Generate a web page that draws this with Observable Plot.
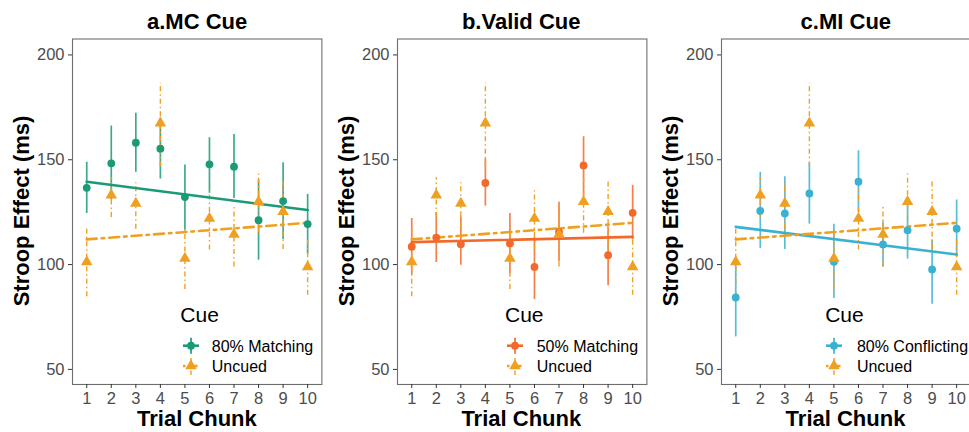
<!DOCTYPE html>
<html>
<head>
<meta charset="utf-8">
<script src="https://cdn.jsdelivr.net/npm/d3@7"></script>
<script src="https://cdn.jsdelivr.net/npm/@observablehq/plot@0.6"></script>
<style>
  html, body { margin: 0; padding: 0; background: #fff; }
  body { width: 969px; height: 432px; overflow: hidden; font-family: "Liberation Sans", Arial, sans-serif; }
  #root { position: relative; width: 969px; height: 432px; overflow: hidden; }
  .panel { position: absolute; top: 0; }
  .ptitle, .xtitle, .ytitle { position: absolute; font-weight: bold; color: #000; white-space: nowrap; font-size: 22px; line-height: 1; }
  .ytitle { transform: translate(-50%, -50%) rotate(-90deg); }
  .legend { position: absolute; color: #000; }
  .legend .head { font-size: 21px; line-height: 1; }
  .legend .row { position: absolute; font-size: 16px; line-height: 1; white-space: nowrap; }
</style>
</head>
<body>
<div id="root"></div>
<script>
// ---- data ----
const chunks = [1, 2, 3, 4, 5, 6, 7, 8, 9, 10];
const yTicks = [50, 100, 150, 200];

const uncuedMean = [101.3, 133.1, 129.2, 167.4, 102.9, 122.0, 114.4, 130.0, 125.2, 98.9];
const uncuedLow  = [84.6, 122.5, 116.8, 146.7, 88.1, 106.9, 98.9, 114.9, 107.2, 85.4];
const uncuedHigh = [117.5, 141.4, 139.0, 186.5, 116.4, 135.2, 127.6, 143.2, 139.8, 112.5];

const mcMean = [136.6, 148.3, 158.1, 155.3, 132.2, 147.8, 146.7, 121.2, 130.3, 119.3];
const mcLow  = [124.4, 130.8, 144.0, 140.8, 116.4, 134.0, 131.5, 102.1, 112.0, 105.0];
const mcHigh = [148.8, 166.1, 172.2, 169.8, 147.5, 160.5, 162.1, 140.3, 148.6, 133.5];

const validMean = [108.5, 112.9, 109.7, 138.9, 110.1, 98.9, 115.6, 147.3, 104.5, 124.7];
const validLow  = [95.0, 101.0, 99.7, 127.9, 95.8, 83.3, 101.3, 132.3, 89.9, 111.7];
const validHigh = [122.0, 124.8, 122.8, 150.5, 124.4, 112.9, 129.7, 161.0, 118.0, 137.8];

const miMean = [84.3, 125.6, 124.4, 133.9, 101.3, 139.5, 109.6, 116.4, 97.7, 117.1];
const miLow  = [65.5, 107.7, 107.2, 119.3, 83.8, 124.7, 98.9, 102.6, 81.1, 103.7];
const miHigh = [103.0, 144.0, 141.9, 148.3, 119.2, 154.3, 120.4, 130.8, 111.7, 130.8];

// fitted regression lines (endpoints at chunk 1 and chunk 10)
const fitChunks = [1, 10];
const uncuedFit = [112.0, 119.9];
const mcFit = [139.5, 126.0];
const validFit = [110.7, 113.2];
const miFit = [118.0, 104.8];

const panelTitles = ["a.MC Cue", "b.Valid Cue", "c.MI Cue"];
const cueLabels = ["80% Matching", "50% Matching", "80% Conflicting"];
const uncuedLabel = "Uncued";
const legendTitle = "Cue";
const xTitle = "Trial Chunk";
const yTitle = "Stroop Effect (ms)";

const cueColors = ["#1b9a78", "#f26a2b", "#3bb1d1"];
const uncuedColor = "#f0a021";

// ---- layout ----
const frameLefts = [72.3, 396.7, 720.9];
const frameW = 249.4;
const mL = 72, mR = 10, mT = 38.5, mB = 48;
const H = 432;
const legendOffsets = [
  {head: 108, key: 118.5, text: 139.5},
  {head: 108.3, key: 118.3, text: 140},
  {head: 104.3, key: 112.6, text: 136}
];

const panels = [
  {mean: mcMean, low: mcLow, high: mcHigh, fit: mcFit},
  {mean: validMean, low: validLow, high: validHigh, fit: validFit},
  {mean: miMean, low: miLow, high: miHigh, fit: miFit}
];

const uncuedRows = chunks.map((c, i) => ({chunk: c, mean: uncuedMean[i], low: uncuedLow[i], high: uncuedHigh[i]}));
const uncuedFitRows = fitChunks.map((c, i) => ({chunk: c, v: uncuedFit[i]}));

const root = document.getElementById("root");

panels.forEach((p, k) => {
  const color = cueColors[k];
  const rows = chunks.map((c, i) => ({chunk: c, mean: p.mean[i], low: p.low[i], high: p.high[i]}));
  const fitRows = fitChunks.map((c, i) => ({chunk: c, v: p.fit[i]}));
  const left = frameLefts[k] - mL;
  const W = mL + frameW + mR;

  const chart = Plot.plot({
    width: W,
    height: H,
    marginLeft: mL, marginRight: mR, marginTop: mT, marginBottom: mB,
    style: {background: "transparent", maxWidth: "none", overflow: "visible", fontFamily: "'Liberation Sans', Arial, sans-serif"},
    x: {domain: [0.42, 10.58], label: null},
    y: {domain: [42.8, 207.6], label: null},
    marks: [
      Plot.frame({stroke: "#6e6e6e", strokeWidth: 1.1}),
      Plot.axisX({ticks: chunks, tickSize: 4, tickPadding: 4, fontSize: 16.5, label: null, stroke: "#333", fill: "#4d4d4d", tickFormat: d => String(d)}),
      Plot.axisY({ticks: yTicks, tickSize: 4, tickPadding: 4, fontSize: 16.5, label: null, stroke: "#333", fill: "#4d4d4d"}),
      // error bars
      Plot.ruleX(rows, {x: "chunk", y1: "low", y2: "high", stroke: color, strokeWidth: 1.7, strokeOpacity: 0.85}),
      Plot.ruleX(uncuedRows, {x: "chunk", y1: "low", y2: "high", stroke: uncuedColor, strokeWidth: 1.4, strokeDasharray: "5,3,1.5,3"}),
      // regression lines
      Plot.line(fitRows, {x: "chunk", y: "v", stroke: color, strokeWidth: 2.6}),
      Plot.line(uncuedFitRows, {x: "chunk", y: "v", stroke: uncuedColor, strokeWidth: 2.6, strokeDasharray: "10,5,2.5,5"}),
      // points
      Plot.dot(rows, {x: "chunk", y: "mean", r: 3.9, fill: color, stroke: "none"}),
      Plot.dot(uncuedRows, {x: "chunk", y: "mean", r: 4.3, symbol: "triangle", fill: uncuedColor, stroke: "none"})
    ]
  });
  chart.classList.add("panel");
  chart.style.left = left + "px";
  chart.style.position = "absolute";
  chart.style.top = "0px";
  root.appendChild(chart);

  const cx = frameLefts[k] + frameW / 2;

  const t = document.createElement("div");
  t.className = "ptitle";
  t.textContent = panelTitles[k];
  root.appendChild(t);
  t.style.left = (cx - t.offsetWidth / 2) + "px";
  t.style.top = "11px";

  const xt = document.createElement("div");
  xt.className = "xtitle";
  xt.textContent = xTitle;
  root.appendChild(xt);
  xt.style.left = (cx - xt.offsetWidth / 2) + "px";
  xt.style.top = "408px";

  const yt = document.createElement("div");
  yt.className = "ytitle";
  yt.textContent = yTitle;
  root.appendChild(yt);
  yt.style.left = (frameLefts[k] - 50) + "px";
  yt.style.top = "211px";

  // legend
  const lo = legendOffsets[k];
  const fl = frameLefts[k];
  const head = document.createElement("div");
  head.className = "legend head";
  head.style.fontSize = "21px";
  head.style.lineHeight = "1";
  head.textContent = legendTitle;
  head.style.left = (fl + lo.head) + "px";
  head.style.top = "304px";
  root.appendChild(head);

  const ns = "http://www.w3.org/2000/svg";
  const keySvg = document.createElementNS(ns, "svg");
  keySvg.setAttribute("width", 24);
  keySvg.setAttribute("height", 44);
  keySvg.style.position = "absolute";
  keySvg.style.left = (fl + lo.key - 12) + "px";
  keySvg.style.top = "334px";
  const kx = 12, y1 = 11.7, y2 = 32;
  const tri = (x, y, r) => {
    const s = Math.PI * r * r;
    const yy = -Math.sqrt(s / (Math.sqrt(3) * 3));
    return `M${x},${y + 2 * yy}L${x - Math.sqrt(3) * yy},${y - yy}L${x + Math.sqrt(3) * yy},${y - yy}Z`;
  };
  keySvg.innerHTML = `
    <line x1="${kx}" x2="${kx}" y1="${y1 - 8}" y2="${y1 + 8}" stroke="${color}" stroke-width="1.7"/>
    <line x1="${kx - 8}" x2="${kx + 8}" y1="${y1}" y2="${y1}" stroke="${color}" stroke-width="2.6"/>
    <circle cx="${kx}" cy="${y1}" r="3.9" fill="${color}"/>
    <line x1="${kx}" x2="${kx}" y1="${y2 - 8}" y2="${y2 + 9}" stroke="${uncuedColor}" stroke-width="1.4" stroke-dasharray="5,3,1.5,3"/>
    <line x1="${kx - 8}" x2="${kx + 8}" y1="${y2}" y2="${y2}" stroke="${uncuedColor}" stroke-width="2.6" stroke-dasharray="2.5,3,9,4"/>
    <path d="${tri(kx, y2, 4.3)}" fill="${uncuedColor}"/>`;
  root.appendChild(keySvg);

  const r1 = document.createElement("div");
  r1.className = "legend row";
  r1.textContent = cueLabels[k];
  r1.style.left = (fl + lo.text) + "px";
  r1.style.top = "337.5px";
  root.appendChild(r1);

  const r2 = document.createElement("div");
  r2.className = "legend row";
  r2.textContent = uncuedLabel;
  r2.style.left = (fl + lo.text) + "px";
  r2.style.top = "358px";
  root.appendChild(r2);
});
</script>
</body>
</html>
